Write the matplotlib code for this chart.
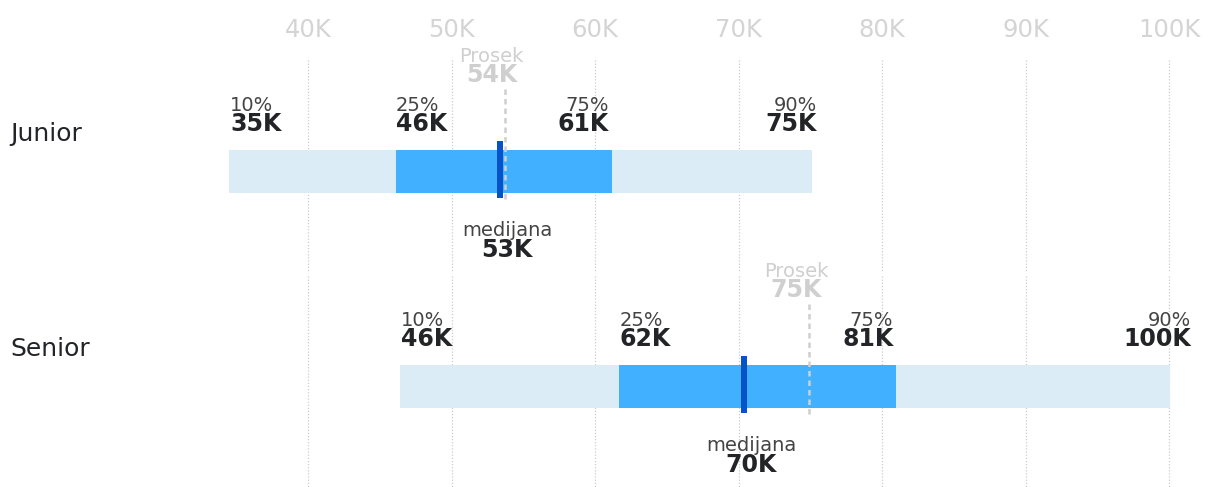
import matplotlib
matplotlib.use("Agg")
import matplotlib.pyplot as plt

# ---- data (values in thousands) ----
categories = ["Junior", "Senior"]
p10 = [34.5, 46.4]
p25 = [46.1, 61.7]
p75 = [61.2, 81.0]
p90 = [75.1, 100.1]
median = [53.4, 70.4]
mean = [53.7, 74.9]
p10_labels = ["35K", "46K"]
p25_labels = ["46K", "62K"]
p75_labels = ["61K", "81K"]
p90_labels = ["75K", "100K"]
median_labels = ["53K", "70K"]
mean_labels = ["54K", "75K"]
tick_values = [40, 50, 60, 70, 80, 90, 100]
tick_labels = ["40K", "50K", "60K", "70K", "80K", "90K", "100K"]

# ---- layout ----
W, H = 1210, 487
fig = plt.figure(figsize=(W / 100, H / 100), dpi=100)
ax = fig.add_axes([0, 0, 1, 1])
pxk = (1169 - 308) / 60.0
x0 = 40 - 308 / pxk
ax.set_xlim(x0, x0 + W / pxk)
ax.set_ylim(H, 0)
ax.axis("off")

C_LIGHT = "#dcecf7"
C_MID = "#40b0ff"
C_MED = "#0552c9"
C_GRID = "#cccccc"
C_TICK = "#d4d4d4"
C_MEAN = "#cfcfcf"
C_LAB = "#444444"
C_VAL = "#222428"

row_step = 215
bar_top0 = 150
bar_h = 43

# ticks
for v, t in zip(tick_values, tick_labels):
    ax.text(v, 37, t, ha="center", va="baseline", fontsize=17.5, color=C_TICK)

# gridlines
for i in range(len(categories)):
    top = 60 if i == 0 else 276
    bot = 272 if i == 0 else H
    for v in tick_values:
        ax.plot([v, v], [top, bot], color=C_GRID, lw=0.9, ls=(0, (1, 1.5)), zorder=0)

def px(n):
    return n / pxk

for i, cat in enumerate(categories):
    off = i * row_step
    bt = bar_top0 + off
    cy = bt + bar_h / 2
    ax.text(10 / pxk + x0, 134 + off, cat, ha="left", va="center", fontsize=18, color=C_VAL)
    ax.barh(cy, p90[i] - p10[i], left=p10[i], height=bar_h, color=C_LIGHT, zorder=1)
    ax.barh(cy, p75[i] - p25[i], left=p25[i], height=bar_h, color=C_MID, zorder=2)
    # mean dashed line
    ax.plot([mean[i], mean[i]], [bt - 61, bt + bar_h + 7], color=C_MEAN, lw=1.8,
            ls=(0, (2.2, 1.6)), zorder=3)
    # median marker
    ax.bar(median[i], 57, bottom=bt - 9, width=px(6), color=C_MED, zorder=4)

    # percentile labels
    yl, yv = 111 + off, 131 + off
    specs = [(p10[i], p10_labels[i], "10%", "left", 1),
             (p25[i], p25_labels[i], "25%", "left", 0),
             (p75[i], p75_labels[i], "75%", "right", -3),
             (p90[i], p90_labels[i], "90%", "right", 5 if i == 0 else 21)]
    for v, vl, pl, ha, dx in specs:
        ax.text(v + px(dx), yl, pl, ha=ha, va="baseline", fontsize=14, color=C_LAB)
        ax.text(v + px(dx), yv, vl, ha=ha, va="baseline", fontsize=17,
                fontweight="bold", color=C_VAL)

    # mean labels
    ax.text(mean[i] - px(13), 62 + off, "Prosek", ha="center", va="baseline",
            fontsize=14, color=C_MEAN)
    ax.text(mean[i] - px(13), 82 + off, mean_labels[i], ha="center", va="baseline",
            fontsize=17, fontweight="bold", color=C_MEAN)
    # median labels
    ax.text(median[i] + px(7), 236 + off, "medijana", ha="center", va="baseline",
            fontsize=14, color=C_LAB)
    ax.text(median[i] + px(7), 257 + off, median_labels[i], ha="center", va="baseline",
            fontsize=17, fontweight="bold", color=C_VAL)

fig.savefig("out.png", dpi=100)
